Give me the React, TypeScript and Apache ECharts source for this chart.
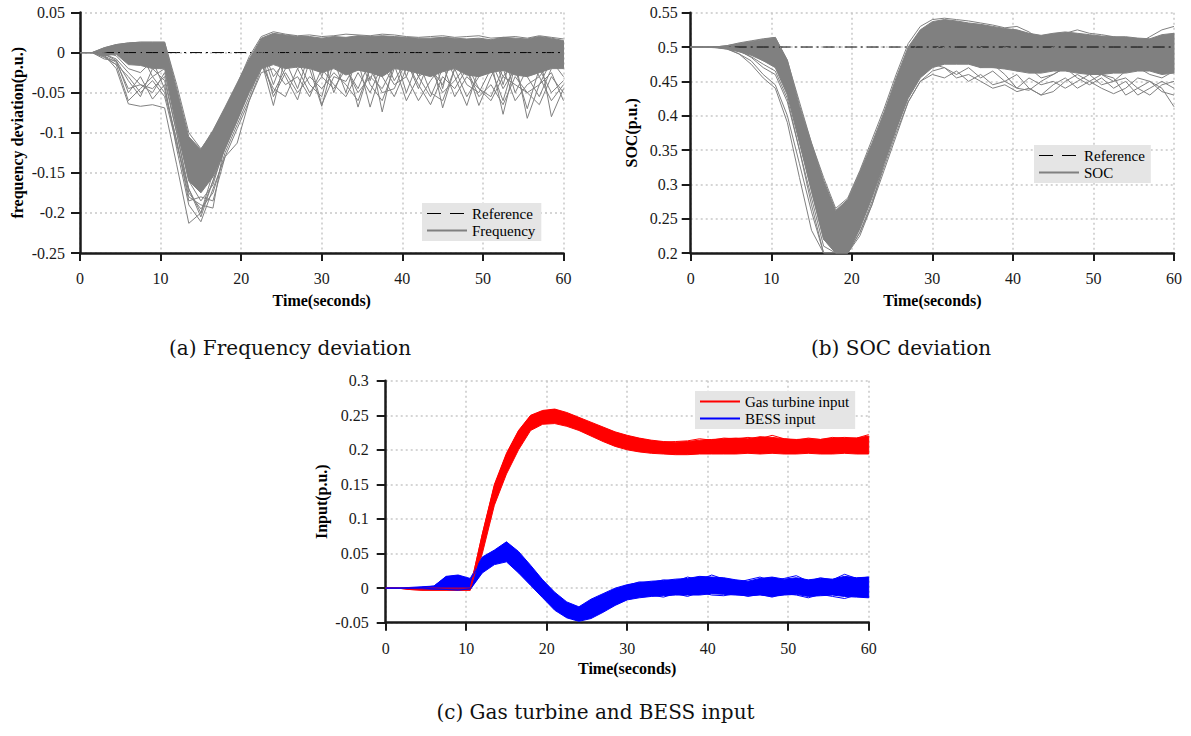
import React, { useEffect, useRef } from "react";
import * as echarts from "echarts";

// ---------- data ----------
const T = [0, 1.5, 3, 4.5, 6, 7.5, 9, 10.5, 12, 13.5, 15, 16.5, 18, 19.5, 21, 22.5, 24, 25.5, 27, 28.5, 30, 31.5, 33, 34.5, 36, 37.5, 39, 40.5, 42, 43.5, 45, 46.5, 48, 49.5, 51, 52.5, 54, 55.5, 57, 58.5, 60];

const X_TICKS = [0, 10, 20, 30, 40, 50, 60];
const REF_FREQ = 0;
const REF_SOC = 0.5;

// (a) frequency deviation: dense core envelope + individual runs
const FREQ_HI = [0, 0, 0.006, 0.01, 0.012, 0.013, 0.013, 0.013, -0.045, -0.105,
  -0.121, -0.097, -0.068, -0.038, -0.008, 0.018, 0.024, 0.022, 0.02, 0.02,
  0.018, 0.02, 0.019, 0.021, 0.02, 0.021, 0.02, 0.019, 0.018, 0.018,
  0.019, 0.018, 0.017, 0.018, 0.016, 0.019, 0.018, 0.017, 0.02, 0.018,
  0.015];
const FREQ_LO = [0, 0, -0.004, -0.002, -0.015, -0.016, -0.02, -0.02, -0.095, -0.16,
  -0.175, -0.155, -0.12, -0.085, -0.05, -0.02, -0.015, -0.02, -0.018, -0.02,
  -0.025, -0.02, -0.028, -0.022, -0.025, -0.03, -0.02, -0.022, -0.026, -0.03,
  -0.024, -0.02, -0.028, -0.03, -0.025, -0.022, -0.028, -0.03, -0.025, -0.02,
  -0.02];
const FREQ_RUN_1 = [0, 0, -0.003, -0.02, -0.064, -0.067, -0.065, -0.069, -0.14, -0.213,
  -0.2, -0.16, -0.12, -0.085, -0.045, -0.01, -0.066, -0.005, 0.01, -0.02,
  -0.067, -0.01, 0.005, -0.02, 0, -0.074, -0.01, 0.005, -0.03, 0,
  -0.069, -0.02, 0, -0.025, -0.01, -0.077, -0.015, 0, -0.03, -0.01,
  -0.02];
const FREQ_RUN_2 = [0, 0, -0.008, -0.01, -0.05, -0.03, -0.058, -0.04, -0.12, -0.19,
  -0.211, -0.17, -0.13, -0.113, -0.06, -0.02, 0, -0.03, -0.059, -0.01,
  0, -0.05, -0.01, -0.068, -0.02, 0, -0.035, -0.01, -0.045, -0.005,
  0, -0.03, -0.066, -0.02, 0, -0.03, -0.01, -0.082, -0.04, -0.01,
  -0.03];
const FREQ_RUN_3 = [0, 0, -0.005, -0.015, -0.06, -0.045, -0.03, -0.05, -0.11, -0.18,
  -0.19, -0.194, -0.11, -0.07, -0.04, 0.005, -0.04, 0, -0.02, -0.01,
  -0.065, -0.03, -0.036, -0.01, -0.068, -0.02, 0, -0.05, -0.01, -0.02,
  -0.04, 0, -0.02, -0.066, -0.03, 0, -0.05, -0.02, 0, -0.08,
  -0.045];
const FREQ_RUN_4 = [0, 0, -0.002, -0.01, -0.035, -0.055, -0.02, -0.035, -0.1, -0.17,
  -0.2, -0.15, -0.1, -0.06, -0.03, 0.01, -0.03, -0.01, -0.045, 0,
  -0.02, -0.01, -0.05, 0, -0.04, -0.06, -0.02, 0, -0.03, -0.055,
  -0.02, -0.01, -0.04, -0.05, -0.02, -0.06, -0.01, -0.03, -0.055, -0.02,
  -0.005];
const FREQ_RUN_5 = [0, 0, -0.004, -0.012, -0.045, -0.04, -0.05, -0.025, -0.09, -0.16,
  -0.185, -0.165, -0.115, -0.08, -0.045, -0.01, -0.05, -0.02, -0.01, -0.04,
  -0.055, 0, -0.02, -0.045, -0.01, -0.03, -0.055, -0.02, -0.01, -0.05,
  -0.06, -0.02, -0.055, -0.03, -0.01, -0.045, -0.02, -0.07, -0.02, -0.05,
  -0.035];
const FREQ_RUN_6 = [0, 0, 0.004, 0.008, 0.01, 0, -0.03, -0.02, -0.06, -0.13,
  -0.16, -0.12, -0.08, -0.05, -0.02, 0.015, 0.02, -0.02, 0.015, 0.01,
  -0.03, 0.015, -0.01, 0.018, -0.035, 0.01, 0.015, -0.03, 0.012, 0.01,
  -0.045, 0.015, -0.02, 0.01, 0.012, -0.04, 0.01, 0.012, -0.02, 0.015,
  0.01];
const FREQ_RUN_7 = [0, 0, 0.006, 0.01, 0.012, 0.013, 0.013, 0.013, -0.04, -0.1,
  -0.12, -0.1, -0.07, -0.04, -0.005, 0.02, 0.026, 0.023, 0.021, 0.022,
  0.02, 0.021, 0.023, 0.022, 0.021, 0.023, 0.022, 0.02, 0.019, 0.02,
  0.021, 0.019, 0.02, 0.021, 0.018, 0.019, 0.02, 0.018, 0.021, 0.019,
  0.017];
const FREQ_RUN_8 = [0, 0, -0.002, -0.008, -0.025, -0.04, -0.045, -0.03, -0.1, -0.175,
  -0.195, -0.175, -0.125, -0.09, -0.055, -0.015, -0.045, -0.055, -0.02, -0.05,
  -0.03, -0.045, -0.02, -0.05, -0.03, -0.045, -0.015, -0.06, -0.03, -0.02,
  -0.05, -0.035, -0.015, -0.045, -0.055, -0.02, -0.06, -0.04, -0.03, -0.06,
  -0.04];
const FREQ_RUN_9 = [0, 0, 0, -0.004, -0.02, -0.025, -0.01, -0.045, -0.11, -0.185,
  -0.18, -0.185, -0.13, -0.095, -0.06, -0.025, -0.02, -0.04, -0.03, -0.055,
  -0.02, -0.04, -0.055, -0.025, -0.05, -0.015, -0.04, -0.03, -0.06, -0.035,
  -0.015, -0.055, -0.03, -0.045, -0.06, -0.03, -0.04, -0.05, -0.065, -0.03,
  -0.05];
const FREQ_RUN_10 = [0, 0, -0.006, -0.015, -0.03, -0.05, -0.035, -0.055, -0.115, -0.17,
  -0.205, -0.16, -0.11, -0.075, -0.035, 0, -0.055, -0.025, -0.05, -0.03,
  -0.045, -0.025, -0.04, -0.06, -0.02, -0.05, -0.045, -0.01, -0.04, -0.065,
  -0.03, -0.045, -0.02, -0.055, -0.04, -0.065, -0.03, -0.05, -0.04, -0.025,
  -0.06];

// (b) SOC
const SOC_HI = [0.5, 0.5, 0.5, 0.502, 0.505, 0.508, 0.511, 0.514, 0.481, 0.415,
  0.36, 0.306, 0.262, 0.278, 0.318, 0.36, 0.405, 0.455, 0.5, 0.525,
  0.537, 0.54, 0.538, 0.535, 0.533, 0.53, 0.527, 0.525, 0.52, 0.517,
  0.52, 0.522, 0.52, 0.518, 0.516, 0.515, 0.515, 0.513, 0.512, 0.518,
  0.52];
const SOC_LO = [0.5, 0.5, 0.499, 0.497, 0.493, 0.488, 0.48, 0.47, 0.43, 0.36,
  0.29, 0.22, 0.2, 0.2, 0.235, 0.28, 0.33, 0.38, 0.425, 0.455,
  0.47, 0.475, 0.475, 0.475, 0.47, 0.47, 0.468, 0.465, 0.462, 0.462,
  0.465, 0.465, 0.462, 0.46, 0.46, 0.462, 0.462, 0.465, 0.465, 0.46,
  0.462];
const SOC_RUN_1 = [0.5, 0.5, 0.5, 0.498, 0.49, 0.475, 0.455, 0.44, 0.39, 0.31,
  0.233, 0.2, 0.2, 0.2, 0.23, 0.27, 0.33, 0.38, 0.43, 0.46,
  0.475, 0.47, 0.455, 0.46, 0.45, 0.44, 0.445, 0.435, 0.44, 0.43,
  0.445, 0.455, 0.44, 0.45, 0.46, 0.455, 0.43, 0.44, 0.45, 0.44,
  0.413];
const SOC_RUN_2 = [0.5, 0.5, 0.5, 0.497, 0.49, 0.48, 0.46, 0.445, 0.4, 0.33,
  0.26, 0.2, 0.2, 0.21, 0.24, 0.29, 0.34, 0.39, 0.44, 0.47,
  0.49, 0.5, 0.495, 0.48, 0.47, 0.475, 0.46, 0.44, 0.437, 0.45,
  0.46, 0.47, 0.455, 0.445, 0.455, 0.44, 0.45, 0.43, 0.44, 0.45,
  0.44];
const SOC_RUN_3 = [0.5, 0.5, 0.5, 0.502, 0.506, 0.509, 0.512, 0.514, 0.48, 0.42,
  0.36, 0.31, 0.265, 0.28, 0.32, 0.365, 0.41, 0.46, 0.505, 0.53,
  0.54, 0.542, 0.54, 0.538, 0.535, 0.532, 0.528, 0.53, 0.522, 0.51,
  0.515, 0.52, 0.525, 0.52, 0.518, 0.515, 0.51, 0.505, 0.515, 0.525,
  0.53];
const SOC_RUN_4 = [0.5, 0.5, 0.5, 0.499, 0.495, 0.485, 0.47, 0.46, 0.42, 0.35,
  0.27, 0.2, 0.2, 0.2, 0.225, 0.27, 0.32, 0.37, 0.42, 0.45,
  0.465, 0.47, 0.46, 0.47, 0.455, 0.465, 0.45, 0.46, 0.44, 0.43,
  0.435, 0.45, 0.46, 0.45, 0.44, 0.432, 0.44, 0.455, 0.45, 0.435,
  0.43];
const SOC_RUN_5 = [0.5, 0.5, 0.5, 0.5, 0.497, 0.49, 0.48, 0.475, 0.435, 0.365,
  0.29, 0.22, 0.2, 0.2, 0.24, 0.285, 0.335, 0.385, 0.43, 0.46,
  0.48, 0.49, 0.485, 0.49, 0.48, 0.47, 0.475, 0.465, 0.47, 0.455,
  0.46, 0.47, 0.465, 0.475, 0.46, 0.45, 0.465, 0.47, 0.46, 0.455,
  0.465];
const SOC_RUN_6 = [0.5, 0.5, 0.5, 0.501, 0.503, 0.505, 0.507, 0.509, 0.475, 0.405,
  0.34, 0.27, 0.215, 0.24, 0.29, 0.34, 0.39, 0.44, 0.485, 0.51,
  0.52, 0.515, 0.505, 0.51, 0.5, 0.49, 0.5, 0.495, 0.485, 0.49,
  0.5, 0.495, 0.48, 0.49, 0.5, 0.49, 0.48, 0.495, 0.49, 0.47,
  0.48];
const SOC_RUN_7 = [0.5, 0.5, 0.5, 0.499, 0.494, 0.486, 0.475, 0.465, 0.425, 0.35,
  0.28, 0.21, 0.2, 0.2, 0.23, 0.275, 0.325, 0.375, 0.42, 0.45,
  0.46, 0.455, 0.465, 0.45, 0.46, 0.445, 0.45, 0.44, 0.455, 0.445,
  0.45, 0.44, 0.45, 0.46, 0.445, 0.45, 0.455, 0.44, 0.43, 0.445,
  0.45];
const SOC_RUN_8 = [0.5, 0.5, 0.5, 0.5, 0.498, 0.493, 0.485, 0.478, 0.44, 0.37,
  0.3, 0.23, 0.2, 0.205, 0.245, 0.295, 0.345, 0.395, 0.445, 0.475,
  0.495, 0.505, 0.49, 0.5, 0.485, 0.495, 0.48, 0.49, 0.475, 0.485,
  0.47, 0.48, 0.49, 0.475, 0.48, 0.47, 0.485, 0.475, 0.47, 0.48,
  0.49];

// (c) gas turbine and BESS input
const GAS_HI = [0, 0, 0, 0, 0, 0, 0, 0, 0.078, 0.15,
  0.195, 0.228, 0.25, 0.257, 0.259, 0.254, 0.247, 0.24, 0.233, 0.226,
  0.221, 0.217, 0.214, 0.212, 0.211, 0.212, 0.214, 0.215, 0.216, 0.217,
  0.216, 0.219, 0.218, 0.216, 0.215, 0.216, 0.215, 0.217, 0.218, 0.217,
  0.22];
const GAS_LO = [0, 0, -0.002, -0.003, -0.003, -0.003, -0.003, -0.003, 0.05, 0.12,
  0.165, 0.2, 0.228, 0.237, 0.238, 0.234, 0.228, 0.22, 0.212, 0.205,
  0.2, 0.197, 0.195, 0.194, 0.193, 0.193, 0.194, 0.194, 0.194, 0.194,
  0.195, 0.194, 0.195, 0.194, 0.194, 0.195, 0.194, 0.194, 0.195, 0.194,
  0.194];
const GAS_RUN_1 = [0, 0, 0, 0, 0, 0, 0, 0, 0.078, 0.148,
  0.193, 0.227, 0.249, 0.256, 0.258, 0.252, 0.245, 0.238, 0.231, 0.224,
  0.219, 0.216, 0.213, 0.211, 0.212, 0.213, 0.216, 0.214, 0.217, 0.216,
  0.218, 0.216, 0.221, 0.216, 0.214, 0.217, 0.215, 0.218, 0.216, 0.217,
  0.222];
const GAS_RUN_2 = [0, 0, -0.002, -0.003, -0.003, -0.003, -0.003, -0.003, 0.06, 0.13,
  0.175, 0.21, 0.236, 0.245, 0.246, 0.242, 0.236, 0.228, 0.22, 0.213,
  0.208, 0.205, 0.202, 0.2, 0.2, 0.203, 0.206, 0.204, 0.207, 0.205,
  0.206, 0.209, 0.205, 0.207, 0.204, 0.208, 0.206, 0.205, 0.209, 0.207,
  0.213];
const BESS_HI = [0, 0, 0.001, 0.002, 0.003, 0.017, 0.019, 0.014, 0.045, 0.055,
  0.067, 0.053, 0.033, 0.012, -0.006, -0.02, -0.027, -0.016, -0.008, 0,
  0.005, 0.008, 0.01, 0.011, 0.013, 0.014, 0.017, 0.016, 0.015, 0.012,
  0.01, 0.014, 0.016, 0.013, 0.015, 0.012, 0.014, 0.013, 0.017, 0.015,
  0.016];
const BESS_LO = [0, 0, -0.001, -0.001, -0.002, -0.002, -0.002, -0.002, 0.022, 0.034,
  0.038, 0.022, 0.004, -0.014, -0.032, -0.043, -0.048, -0.044, -0.035, -0.025,
  -0.017, -0.014, -0.012, -0.011, -0.01, -0.01, -0.01, -0.008, -0.009, -0.01,
  -0.011, -0.01, -0.012, -0.01, -0.009, -0.012, -0.011, -0.01, -0.012, -0.013,
  -0.014];
const BESS_RUN_1 = [0, 0, 0, 0.001, 0.003, 0.016, 0.018, 0.012, 0.04, 0.052,
  0.066, 0.05, 0.03, 0.01, -0.008, -0.022, -0.03, -0.02, -0.01, -0.002,
  0.004, 0.009, 0.008, 0.012, 0.01, 0.016, 0.012, 0.019, 0.013, 0.008,
  0.012, 0.016, 0.01, 0.014, 0.018, 0.01, 0.015, 0.012, 0.02, 0.014,
  0.016];
const BESS_RUN_2 = [0, 0, 0, 0, -0.001, -0.002, -0.003, -0.001, 0.024, 0.036,
  0.04, 0.024, 0.006, -0.012, -0.03, -0.042, -0.047, -0.042, -0.033, -0.022,
  -0.015, -0.012, -0.01, -0.013, -0.008, -0.012, -0.006, -0.01, -0.011, -0.008,
  -0.012, -0.009, -0.013, -0.008, -0.01, -0.014, -0.009, -0.012, -0.015, -0.01,
  -0.013];

// ---------- styling ----------
const SERIF = "'Liberation Serif', 'Times New Roman', serif";
const CAPTION_FONT = "'DejaVu Serif', serif";
const GRAY = "#808080";
const RED = "#ff0000";
const BLUE = "#0000ff";
const AXIS_COLOR = "#1a1a1a";

const fmt = (v: number) => String(Math.round(v * 100) / 100);

function xAxis(gi: number, nameGap: number, labelMargin: number) {
  return {
    type: "value",
    gridIndex: gi,
    min: X_TICKS[0],
    max: X_TICKS[X_TICKS.length - 1],
    interval: X_TICKS[1] - X_TICKS[0],
    name: "Time(seconds)",
    nameLocation: "middle",
    nameGap,
    nameTextStyle: { fontFamily: SERIF, fontWeight: "bold", fontSize: 16, color: "#000" },
    axisLine: { show: true, onZero: false, lineStyle: { color: AXIS_COLOR, width: 2.5 } },
    axisTick: { show: true, inside: false, length: 8, lineStyle: { color: AXIS_COLOR, width: 2 } },
    axisLabel: { margin: labelMargin, fontFamily: SERIF, fontSize: 16, color: "#1a1a1a" },
    splitLine: { show: true, lineStyle: { color: "#c8c8c8", width: 1.5, type: [2, 3] } },
  };
}

function yAxis(gi: number, name: string, min: number, max: number, nameGap: number, labelMargin: number) {
  return {
    type: "value",
    gridIndex: gi,
    min,
    max,
    interval: 0.05,
    name,
    nameLocation: "middle",
    nameGap,
    nameTextStyle: { fontFamily: SERIF, fontWeight: "bold", fontSize: 16, color: "#000" },
    axisLine: { show: true, onZero: false, lineStyle: { color: AXIS_COLOR, width: 2.5 } },
    axisTick: { show: true, inside: false, length: 9, lineStyle: { color: AXIS_COLOR, width: 2 } },
    axisLabel: { margin: labelMargin, fontFamily: SERIF, fontSize: 16, color: "#1a1a1a", formatter: fmt },
    splitLine: { show: true, lineStyle: { color: "#c8c8c8", width: 1.5, type: [2, 3] } },
  };
}

function band(name: string, gi: number, lo: number[], hi: number[], color: string) {
  return {
    type: "custom",
    name,
    xAxisIndex: gi,
    yAxisIndex: gi,
    silent: true,
    data: T.map((t, i) => [t, lo[i], hi[i]]),
    encode: { x: 0, y: [1, 2] },
    renderItem: (params: any, api: any) => {
      if (params.dataIndex !== 0) return null;
      const pts: number[][] = [];
      for (let i = 0; i < T.length; i++) pts.push(api.coord([T[i], hi[i]]));
      for (let i = T.length - 1; i >= 0; i--) pts.push(api.coord([T[i], lo[i]]));
      return {
        type: "polygon",
        shape: { points: pts },
        style: { fill: color, stroke: color, lineWidth: 1 },
      };
    },
  };
}

function runs(name: string, gi: number, list: number[][], color: string) {
  return list.map((r) => ({
    type: "line",
    name,
    xAxisIndex: gi,
    yAxisIndex: gi,
    data: T.map((t, i) => [t, r[i]]),
    symbol: "none",
    showSymbol: false,
    silent: true,
    lineStyle: { width: 1, color },
    itemStyle: { color },
    emphasis: { disabled: true },
  }));
}

function reference(gi: number, value: number) {
  return {
    type: "line",
    name: "Reference",
    xAxisIndex: gi,
    yAxisIndex: gi,
    data: T.map((t) => [t, value]),
    symbol: "none",
    showSymbol: false,
    silent: true,
    lineStyle: { width: 1, color: "#000", type: [12, 4, 2, 4] },
    itemStyle: { color: "#000" },
    emphasis: { disabled: true },
  };
}

function legend(left: number, top: number, names: string[]) {
  return {
    left,
    top,
    orient: "vertical",
    backgroundColor: "#e5e5e5",
    padding: [3, 6, 3, 4],
    itemGap: 2,
    itemWidth: 40,
    itemHeight: 14,
    selectedMode: false,
    itemStyle: { opacity: 0 },
    textStyle: { fontFamily: SERIF, fontSize: 15, color: "#000" },
    data: names.map((n) =>
      n === "Reference"
        ? { name: n, itemStyle: { opacity: 0 }, lineStyle: { type: [14, 9], color: "#000", width: 1 } }
        : { name: n, itemStyle: { opacity: 0 } }
    ),
  };
}

function caption(text: string, cx: number, cy: number) {
  return {
    type: "text",
    x: cx,
    y: cy,
    style: {
      text,
      fontFamily: CAPTION_FONT,
      fontSize: 20,
      fill: "#111",
      align: "center",
      verticalAlign: "middle",
    },
  };
}

export default function App() {
  const ref = useRef<HTMLDivElement>(null);
  useEffect(() => {
    if (!ref.current) return;
    const chart = echarts.init(ref.current, null, { renderer: "svg" });
    const option: any = {
      animation: false,
      backgroundColor: "#fff",
      grid: [
        { left: 80, top: 12.5, width: 483.5, height: 240.5 },
        { left: 690.7, top: 12.7, width: 483.3, height: 240.3 },
        { left: 385.7, top: 380.7, width: 483, height: 242 },
      ],
      xAxis: [xAxis(0, 39, 17), xAxis(1, 39, 17), xAxis(2, 38, 18)],
      yAxis: [
        yAxis(0, "frequency deviation(p.u.)", -0.25, 0.05, 55, 15),
        yAxis(1, "SOC(p.u.)", 0.2, 0.55, 51, 13),
        yAxis(2, "Input(p.u.)", -0.05, 0.3, 56, 17),
      ],
      legend: [
        legend(422, 203, ["Reference", "Frequency"]),
        legend(1034, 145, ["Reference", "SOC"]),
        legend(695, 391, ["Gas turbine input", "BESS input"]),
      ],
      series: [
        reference(0, REF_FREQ),
        ...runs("Frequency", 0, [FREQ_RUN_1, FREQ_RUN_8, FREQ_RUN_9, FREQ_RUN_10], GRAY),
        band("Frequency core", 0, FREQ_LO, FREQ_HI, GRAY),
        ...runs("Frequency", 0, [FREQ_RUN_2, FREQ_RUN_3, FREQ_RUN_4, FREQ_RUN_5, FREQ_RUN_6, FREQ_RUN_7], GRAY),
        reference(1, REF_SOC),
        ...runs("SOC", 1, [SOC_RUN_1, SOC_RUN_7], GRAY),
        band("SOC core", 1, SOC_LO, SOC_HI, GRAY),
        ...runs("SOC", 1, [SOC_RUN_2, SOC_RUN_3, SOC_RUN_4, SOC_RUN_5, SOC_RUN_6, SOC_RUN_8], GRAY),
        ...runs("Gas turbine input", 2, [GAS_RUN_1], RED),
        band("Gas core", 2, GAS_LO, GAS_HI, RED),
        ...runs("Gas turbine input", 2, [GAS_RUN_2], RED),
        ...runs("BESS input", 2, [BESS_RUN_1], BLUE),
        band("BESS core", 2, BESS_LO, BESS_HI, BLUE),
        ...runs("BESS input", 2, [BESS_RUN_2], BLUE),
      ],
      graphic: [
        caption("(a) Frequency deviation", 290, 348),
        caption("(b) SOC deviation", 901, 348),
        caption("(c) Gas turbine and BESS input", 595.5, 712),
      ],
    };
    chart.setOption(option);
    return () => chart.dispose();
  }, []);
  return (
    <div
      ref={ref}
      style={{ position: "fixed", left: 0, top: 0, width: 1191, height: 736, background: "#fff" }}
    />
  );
}
